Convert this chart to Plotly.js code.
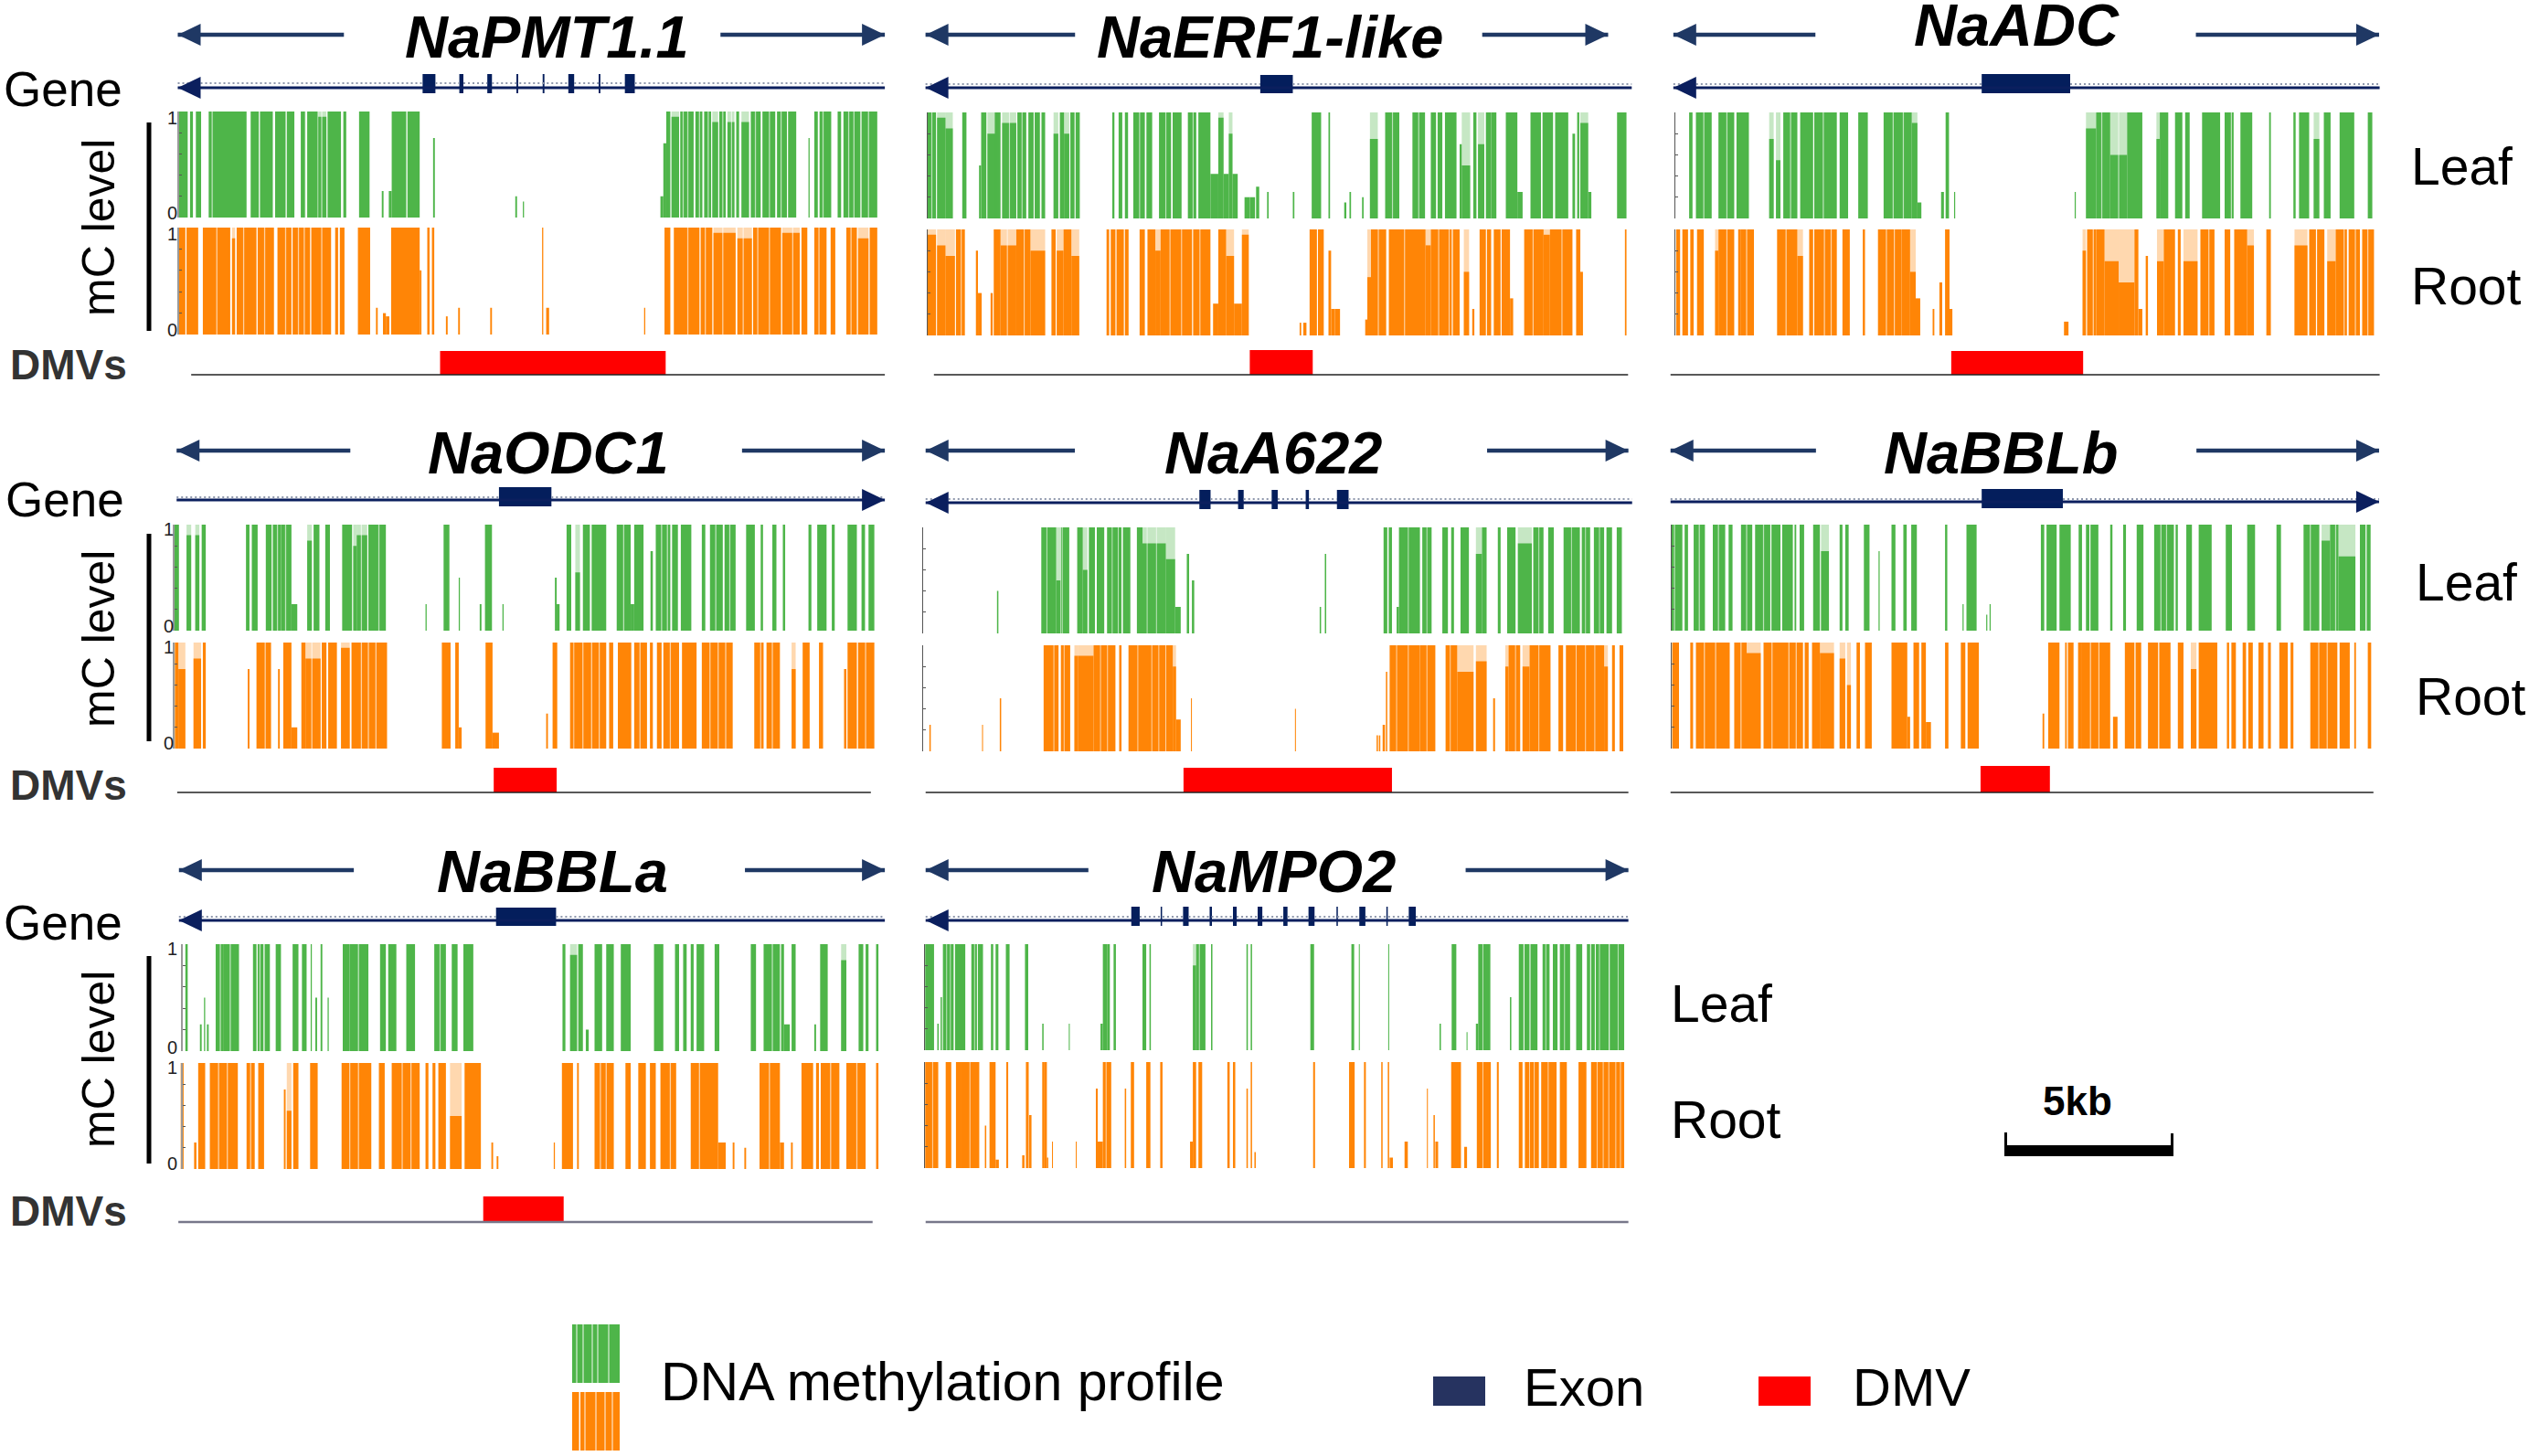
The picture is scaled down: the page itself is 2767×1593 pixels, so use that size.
<!DOCTYPE html>
<html><head><meta charset="utf-8">
<script src="https://cdn.plot.ly/plotly-3.0.1.min.js"></script>
<style>html,body{margin:0;padding:0;background:#fff}#c{width:2767px;height:1593px}</style>
</head><body><div id="c"></div>
<script>
// Methylation blocks: [start, end, mC level] in genome bins (level 1 when omitted)
const NaPMT_leaf=[[305,322],[326,331],[336,345],[358,423],[430,444],[446,468],[472,490],[492,505],[516,524],[527,545],[546,560,.95],[562,585],[589,594],[616,634],[655,658,.25],[667,672,.25],[672,697],[699,720],[743,746,.75],[884,887,.2],[897,899,.15],[1133,1138,.2],[1138,1143,.7],[1143,1150],[1152,1165,.95],[1167,1190],[1193,1205],[1208,1220],[1222,1232,.9],[1234,1245],[1248,1260,.9],[1263,1268],[1272,1285,.9],[1288,1305],[1308,1330],[1333,1350],[1352,1366],[1387,1389,.75],[1397,1403],[1406,1426],[1437,1443],[1447,1476],[1478,1505]];
const NaPMT_root=[[305,318],[320,340],[348,395],[398,404,.9],[406,440],[442,470],[476,500],[502,532],[534,568],[575,580],[583,591],[614,635],[645,648,.25],[657,662,.2],[662,668,.17],[671,720],[720,723,.6],[733,737],[741,745],[765,768,.17],[786,789,.25],[841,844,.25],[930,932],[937,942,.25],[1105,1107,.25],[1140,1150],[1156,1200],[1202,1222],[1224,1262,.95],[1265,1290,.9],[1292,1340],[1342,1372,.95],[1375,1385],[1397,1418],[1425,1433],[1452,1470],[1472,1490,.9],[1492,1505]];
const NaERF_leaf=[[25,42],[44,60,.95],[60,74,.85],[92,100],[124,128,.5],[128,138],[140,158,.8],[154,165],[168,195,.9],[197,214],[218,228],[230,240],[243,250],[266,275,.8],[278,286],[286,296,.8],[298,306],[308,316],[378,382],[390,397],[402,408],[418,440],[443,454],[467,490],[493,510],[522,538],[542,565],[565,580,.42],[580,590,.95],[590,600,.42],[600,607,.8],[607,617,.42],[630,640,.2],[640,650,.2],[652,658,.3],[673,676,.25],[722,725,.25],[758,776],[790,793],[820,824,.15],[830,833,.25],[854,857,.2],[869,884,.75],[898,925],[950,974],[985,995],[998,1007],[1012,1034],[1040,1044,.7],[1044,1060,.5],[1066,1072],[1075,1087,.7],[1090,1100],[1100,1110],[1128,1150],[1150,1160,.25],[1175,1195],[1198,1218],[1222,1247],[1255,1260,.8],[1264,1268],[1270,1285,.9],[1285,1291,.25],[1340,1358]];
const NaERF_root=[[25,42,.95],[44,60,.85],[60,78,.75],[80,97],[118,122,.8],[122,129,.4],[146,150,.4],[152,165],[165,195,.85],[195,222],[222,250,.8],[262,270],[272,285,.8],[285,300],[300,315,.75],[367,372],[375,384],[386,400],[402,409],[430,440],[445,460],[460,470,.8],[470,530],[532,565],[570,580,.3],[580,595],[595,610,.75],[610,625,.3],[625,638,.95],[735,738,.12],[742,748,.12],[754,768],[770,781],[790,795,.8],[795,802,.25],[802,812,.25],[860,864,.15],[864,871,.55],[871,900],[905,975],[975,985,.85],[985,1025],[1027,1040],[1048,1058,.6],[1064,1068,.25],[1078,1090],[1092,1100],[1105,1118],[1120,1136],[1136,1142,.35],[1163,1200],[1200,1212,.95],[1212,1255],[1262,1270],[1270,1275,.6],[1355,1358]];
const NaADC_leaf=[[78,84],[90,118],[130,158],[162,184],[220,228,.75],[232,240,.55],[245,270],[275,298],[300,340],[345,360],[378,395],[423,473],[473,483,.9],[483,490,.15],[525,530,.25],[533,539],[548,550,.25],[762,764,.25],[782,800,.85],[800,825],[825,855,.6],[855,882],[907,913,.75],[913,928],[940,953],[958,966],[988,1020],[1028,1044],[1056,1077],[1107,1110],[1150,1154],[1160,1178],[1186,1196,.75],[1204,1216],[1232,1258],[1282,1290]];
const NaADC_root=[[55,62],[66,76],[80,86],[92,104],[124,130,.8],[130,158],[165,170],[170,193],[234,270],[270,280,.75],[291,298],[300,340],[350,363],[386,390],[413,455],[455,470],[470,480,.6],[480,488,.35],[510,513,.25],[522,527,.5],[532,540],[540,545,.25],[743,751,.13],[776,782,.8],[784,800],[800,815],[815,840,.7],[840,868,.5],[868,875],[875,882,.25],[888,892,.75],[908,920,.7],[920,940],[945,950],[955,980,.7],[985,1010],[1028,1038],[1045,1068],[1068,1080,.85],[1102,1110],[1152,1175,.85],[1178,1190],[1192,1205],[1210,1225,.7],[1225,1245],[1248,1268],[1272,1293]];
const NaODC_leaf=[[298,307],[320,328,.9],[335,342,.9],[346,353],[422,428],[432,442],[456,466],[468,482],[482,500],[500,510,.25],[527,535,.85],[538,548],[558,566],[587,604],[606,612,.8],[612,630,.9],[632,662],[730,732,.25],[761,771],[787,789,.5],[823,826,.25],[832,844],[862,864,.25],[952,955,.5],[955,960,.25],[972,980],[987,995,.55],[1000,1012],[1015,1040],[1058,1082],[1082,1088,.25],[1088,1104],[1116,1120,.75],[1125,1150],[1153,1163],[1168,1186],[1204,1210],[1218,1240],[1243,1262],[1280,1295],[1305,1309],[1325,1332],[1343,1347],[1387,1392],[1402,1418],[1427,1432],[1454,1470],[1478,1484],[1490,1500]];
const NaODC_root=[[300,306],[306,318,.75],[332,345,.85],[348,353],[425,428,.75],[440,465],[477,480,.75],[486,500],[500,510,.2],[517,524],[524,550,.85],[552,560],[563,578],[585,600,.95],[603,664],[758,773],[781,787],[787,792,.2],[833,845],[845,856,.15],[937,940,.33],[948,956],[978,984],[985,1040],[1045,1052],[1060,1083],[1088,1110],[1115,1120],[1127,1135],[1138,1165],[1170,1195],[1204,1257],[1294,1310],[1315,1338],[1358,1365,.75],[1377,1389],[1405,1412],[1448,1452,.75],[1454,1470],[1472,1500]];
const NaA622_leaf=[[178,181,.4],[273,305],[305,314,.5],[315,333],[350,362],[362,372,.6],[375,388],[392,408],[414,445],[448,464],[478,490],[490,540,.85],[540,560,.7],[560,572,.25],[585,590,.75],[596,601,.5],[870,873,.25],[881,884,.75],[1007,1015],[1018,1025],[1035,1040,.25],[1040,1085],[1090,1110],[1133,1145],[1152,1158],[1172,1190],[1205,1218,.75],[1218,1228],[1252,1258],[1272,1290],[1295,1325,.85],[1328,1350],[1360,1372],[1393,1428],[1432,1450],[1458,1480],[1485,1497],[1507,1518]];
const NaA622_root=[[33,36,.25],[146,148,.25],[184,187,.5],[278,310],[315,335],[344,352,.9],[352,385,.9],[385,432],[440,445],[460,555],[555,562,.8],[562,572,.3],[594,596,.5],[817,819,.4],[992,995,.15],[997,1000,.15],[1005,1010,.25],[1012,1015,.75],[1020,1085],[1085,1118],[1140,1165],[1165,1200,.75],[1205,1228,.85],[1242,1246,.5],[1268,1275,.8],[1275,1300],[1305,1320,.8],[1320,1365],[1382,1392],[1398,1480],[1480,1488,.8],[1497,1503],[1513,1521]];
const NaBBLb_leaf=[[47,66],[70,76],[86,106],[120,142],[148,155],[170,190],[195,222],[224,240],[243,262],[265,268],[274,282],[298,310],[312,326,.75],[345,350],[355,361],[388,398],[414,416,.75],[437,444],[458,464],[472,482],[532,536],[563,565,.25],[570,588],[605,607,.15],[611,613,.25],[702,708],[712,730],[735,755],[769,775],[782,788],[790,804],[825,829],[848,853],[872,884],[903,938],[941,945],[960,970],[982,1005],[1030,1041],[1068,1082],[1120,1128],[1168,1196],[1200,1215,.85],[1215,1230],[1230,1260,.7],[1268,1278],[1280,1287]];
const NaBBLb_root=[[48,60],[80,85],[90,150],[158,180],[180,205,.9],[210,240],[240,280],[283,290],[296,310],[310,335,.9],[345,355,.85],[358,365,.6],[375,381],[390,402],[437,465],[465,470,.3],[476,486],[490,498],[498,507,.25],[532,538],[560,568],[572,592],[705,708,.33],[715,735],[745,748],[750,760],[768,775],[775,825],[830,838,.3],[851,868],[870,880],[892,910],[912,932],[945,955],[968,978,.75],[982,1015],[1032,1036],[1040,1048],[1060,1066],[1070,1078],[1088,1097],[1105,1110],[1125,1140],[1145,1150],[1180,1228],[1232,1250],[1258,1261],[1282,1288]];
const NaBBLa_leaf=[[318,322],[343,346,.25],[350,352,.5],[355,358,.25],[370,384],[384,410],[434,440],[442,452],[454,463],[473,482],[502,512],[518,526],[533,535],[541,544,.5],[550,553],[562,564,.5],[588,600],[600,632],[652,662],[666,680],[697,712],[745,765],[775,785],[795,812],[965,970],[978,990,.9],[992,1000],[1005,1010,.2],[1020,1033],[1040,1053],[1065,1082],[1122,1138],[1158,1165],[1172,1178],[1185,1190],[1195,1208],[1226,1234],[1288,1297],[1310,1338],[1340,1345],[1345,1355,.25],[1358,1365],[1397,1400,.25],[1407,1420],[1443,1452,.85],[1473,1481],[1485,1490],[1503,1507]];
const NaBBLa_root=[[310,315],[333,337,.25],[340,352],[360,408],[423,437],[443,453],[487,490,.75],[492,500,.55],[503,512],[532,545],[586,637],[650,660],[672,720],[730,735],[742,747],[752,765],[772,792,.5],[797,825],[843,846,.25],[852,855,.12],[950,952,.25],[964,983],[990,993],[1020,1053],[1073,1082],[1095,1108],[1115,1125],[1133,1160],[1185,1232],[1232,1245,.25],[1257,1260,.25],[1277,1280,.2],[1303,1338],[1338,1345,.25],[1357,1360,.25],[1375,1395],[1400,1405],[1408,1440],[1452,1485],[1503,1507]];
const NaMPO2_leaf=[[24,43],[50,53,.25],[57,60,.5],[62,85],[88,110],[123,135],[137,148],[165,170],[175,181],[197,205],[238,245],[275,278,.25],[332,334,.25],[400,405,.25],[405,415],[415,420],[428,433],[490,498],[505,508],[598,605,.8],[605,625],[637,640],[713,716],[722,725],[850,858],[938,944],[954,956],[1017,1019],[1127,1130,.25],[1153,1163],[1185,1187,.17],[1205,1210,.25],[1210,1236],[1278,1281,.5],[1297,1307],[1309,1320],[1322,1337],[1348,1363],[1370,1380],[1385,1407],[1420,1433],[1443,1450],[1452,1460],[1462,1490],[1492,1523]];
const NaMPO2_root=[[24,52],[68,80],[90,100],[100,140],[152,155,.4],[162,175],[175,182,.08],[198,202],[232,237,.12],[240,246],[247,252,.5],[275,280],[280,285],[285,288,.1],[296,298,.25],[347,349,.25],[390,394,.75],[394,405,.25],[405,423],[452,455,.75],[465,472],[498,507],[528,533],[592,598,.25],[598,605],[610,618],[672,677],[684,689],[713,716,.75],[722,725],[730,733,.15],[856,860],[933,945],[965,969],[1002,1005],[1016,1019],[1020,1027,.1],[1052,1059,.25],[1100,1102,.75],[1114,1117,.5],[1118,1124,.25],[1152,1173],[1180,1186,.2],[1207,1237],[1250,1254],[1297,1305],[1310,1340],[1345,1378],[1385,1400],[1425,1442],[1452,1523]];
// Unmethylated sites inside the dense blocks
const slits_PMT_leaf=[364,524,552,1172,1180,1200,1215,1240,1255,1296,1320,1340,1412,1456,1465,1490];
const slits_PMT_root=[372,404,418,454,490,512,522,552,1180,1210,1240,1275,1300,1320,1360,1405,1460];
const slits_ERF_leaf=[34,182,206,480,430,532,912,962];
const slits_ERF_root=[90,178,210,488,510,545,885,935,1000,1020,1180,1235];
const slits_ADC_leaf=[104,145,258,316,440,458,810,840,1040];
const slits_ADC_root=[145,180,250,318,330,428,442,795,1000,1240,1260,1282];
const slits_ODC_leaf=[476,490,620,650,1070,1135,1145,1228,1252];
const slits_ODC_root=[455,535,620,632,645,1000,1015,1028,1098,1150,1218,1232,1245,1305,1325,1485];
const slits_A622_leaf=[285,318,425,438,500,520,1060,1100,1410,1440,1470,1340];
const slits_A622_root=[300,322,400,415,480,510,525,540,1035,1060,1100,1150,1290,1340,1420,1440,1460];
const slits_BBLb_leaf=[52,96,130,180,210,915,925,1180,1225];
const slits_BBLb_root=[105,125,170,225,255,268,790,805,1195,1210];
const slits_BBLa_leaf=[378,395,446,615,755,1325];
const slits_BBLa_root=[375,390,430,600,615,690,705,1030,1040,1150,1200,1320,1425,1470];
const slits_MPO2_leaf=[70,78,130,612,1220,1355,1395,1470,1510];
const slits_MPO2_root=[40,120,412,1220,1320,1330,1360,1465,1478,1490,1505,1515];
const exons_PMT=[[725,747],[788,795],[836,844],[886,889],[931,934],[975,985],[1027,1030],[1072,1089]];
const exons_ERF=[[660,722]];
const exons_ADC=[[597,754]];
const exons_ODC=[[856,946]];
const exons_A622=[[612,636],[695,707],[767,780],[840,847],[907,932]];
const exons_BBLb=[[597,741]];
const exons_BBLa=[[851,954]];
const exons_MPO2=[[466,484],[529,532],[577,589],[634,639],[684,692],[737,747],[792,801],[846,859],[906,909],[955,968],[1013,1016],[1061,1076]];
const dmv_PMT=[755,1142], dmv_ERF=[640,760], dmv_ADC=[543,777], dmv_ODC=[847,955], dmv_A622=[578,1025], dmv_BBLb=[595,718], dmv_BBLa=[829,967];
const legendGreen=[[0,52]];
const legendOrange=[[0,8],[9,52]];
const legendGreenSlits=[5,12,22,28,40];
const legendOrangeSlits=[8,14,26,36,44];
const geneNames=['NaPMT1.1','NaERF1-like','NaADC','NaODC1','NaA622','NaBBLb','NaBBLa','NaMPO2'];
const scaleBarKb=5;

const W=2767,H=1593;
const GREEN='rgba(77,181,72,.995)',ORANGE='rgba(255,133,5,.995)',TITLEARROW='#1f3864',GENE='#0b1f5e',EXON='#041e5c',RED='#ff0000';
const PALEG='rgba(77,181,72,.32)',PALEO='rgba(255,133,5,.32)';
const P=[
 {leaf:NaPMT_leaf,root:NaPMT_root,sl:slits_PMT_leaf,sr:slits_PMT_root,ex:exons_PMT,dmv:dmv_PMT,s:1.568,off:0,lo:290,hi:1530,tl:194.5,ly:[122,238],ry:[249,366],ay:38,aL:[305,590],aR:[1236,1518],cx:598,ty:40,gy:96,dy:91,g:[305,1518],dir:-1,ey:[81,102],my:[384,410],b:[328,1518],by:410,lab:[188,129,233,256,361]},
 {leaf:NaERF_leaf,root:NaERF_root,sl:slits_ERF_leaf,sr:slits_ERF_root,ex:exons_ERF,dmv:dmv_ERF,s:1.742,off:1000,lo:10,hi:1375,tl:1014,ly:[123,239],ry:[251,367],ay:38,aL:[22,307],aR:[1083,1323],cx:1389,ty:40,gy:96,dy:92,g:[22,1368],dir:-1,ey:[82,102],my:[383,410],b:[38,1361],by:410},
 {leaf:NaADC_leaf,root:NaADC_root,sl:slits_ADC_leaf,sr:slits_ADC_root,ex:exons_ADC,dmv:dmv_ADC,s:1.6215,off:1800,lo:30,hi:1310,tl:1832,ly:[123,239],ry:[251,367],ay:38,aL:[50,302],aR:[977,1302],cx:2206,ty:28,gy:96,dy:92,g:[50,1303],dir:-1,ey:[81,102],my:[384,410],b:[45,1303],by:410},
 {leaf:NaODC_leaf,root:NaODC_root,sl:slits_ODC_leaf,sr:slits_ODC_root,ex:exons_ODC,dmv:dmv_ODC,s:1.568,off:0,lo:285,hi:1530,tl:190,ly:[574,690],ry:[703,819],ay:493,aL:[303,601],aR:[1273,1518],cx:600,ty:495,gy:547,dy:544,g:[303,1518],dir:1,ey:[533,554],my:[840,867],b:[304,1494],by:867,lab:[184,579,685,708,813]},
 {leaf:NaA622_leaf,root:NaA622_root,sl:slits_A622_leaf,sr:slits_A622_root,ex:exons_A622,dmv:dmv_A622,s:1.96,off:1000,lo:5,hi:1550,tl:1009,ly:[577,693],ry:[706,822],ay:493,aL:[25,345],aR:[1229,1532],cx:1393,ty:495,gy:550,dy:546,g:[25,1540],dir:-1,ey:[536,557],my:[840,867],b:[25,1532],by:867},
 {leaf:NaBBLb_leaf,root:NaBBLb_root,sl:slits_BBLb_leaf,sr:slits_BBLb_root,ex:exons_BBLb,dmv:dmv_BBLb,s:1.6215,off:1800,lo:30,hi:1310,tl:1828,ly:[574,690],ry:[703,819],ay:493,aL:[45,303],aR:[978,1302],cx:2189,ty:495,gy:549,dy:546,g:[45,1302],dir:1,ey:[535,556],my:[838,867],b:[45,1292],by:867},
 {leaf:NaBBLa_leaf,root:NaBBLa_root,sl:slits_BBLa_leaf,sr:slits_BBLa_root,ex:exons_BBLa,dmv:dmv_BBLa,s:1.568,off:0,lo:290,hi:1530,tl:199,ly:[1033,1150],ry:[1163,1279],ay:952,aL:[307,607],aR:[1278,1518],cx:604,ty:953,gy:1007,dy:1003,g:[307,1518],dir:-1,ey:[993,1013],my:[1309,1337],b:[306,1497],by:1337,lab:[188,1038,1146,1168,1273],gray:1},
 {leaf:NaMPO2_leaf,root:NaMPO2_root,sl:slits_MPO2_leaf,sr:slits_MPO2_root,ex:exons_MPO2,dmv:null,s:1.96,off:1000,lo:10,hi:1550,tl:1011,ly:[1033,1149],ry:[1162,1278],ay:952,aL:[25,374],aR:[1183,1532],cx:1393,ty:953,gy:1007,dy:1003,g:[25,1532],dir:-1,ey:[992,1013],my:[0,0],b:[25,1532],by:1337,gray:1}
];
const layout={width:W,height:H,margin:{l:0,r:0,t:0,b:0},paper_bgcolor:'#fff',plot_bgcolor:'rgba(0,0,0,0)',showlegend:false,barmode:'overlay',
 font:{family:'Liberation Sans'},annotations:[]};
const traces=[];
const noax={visible:false,fixedrange:true,showgrid:false,zeroline:false};
layout.yaxis=Object.assign({range:[H,0],domain:[0,1],anchor:'x9'},noax);
layout.xaxis9=Object.assign({range:[0,W],domain:[0,1],anchor:'y'},noax);
function bars(blocks,xa,ya,color,pale,slits,sw){
 const pb=blocks.filter(b=>b[2]!==undefined&&b[2]>=.5&&b[1]-b[0]>=6);
 if(pb.length) traces.push({type:'bar',xaxis:xa,yaxis:ya,x:pb.map(b=>(b[0]+b[1])/2),width:pb.map(b=>b[1]-b[0]),
   y:pb.map(b=>1),base:0,marker:{color:pale,line:{width:0}},hoverinfo:'skip'});
 traces.push({type:'bar',xaxis:xa,yaxis:ya,x:blocks.map(b=>(b[0]+b[1])/2),width:blocks.map(b=>b[1]-b[0]),
  y:blocks.map(b=>b[2]===undefined?1:b[2]),base:0,marker:{color:color,line:{width:0}},hoverinfo:'skip'});
 if(slits&&slits.length) traces.push({type:'bar',xaxis:xa,yaxis:ya,x:slits,width:slits.map(()=>sw),
  y:slits.map(()=>1),base:0,marker:{color:'rgba(255,255,255,.62)',line:{width:0}},hoverinfo:'skip'});
}
function rect(x0,x1,y0,y1,xa,color){
 traces.push({type:'bar',xaxis:xa,yaxis:'y',x:[(x0+x1)/2],width:[x1-x0],y:[y1-y0],base:[y0],marker:{color:color,line:{width:0}},hoverinfo:'skip'});
}
function line(xs,ys,xa,color,w,dash){
 traces.push({type:'scatter',mode:'lines',xaxis:xa,yaxis:'y',x:xs,y:ys,line:{color:color,width:w,dash:dash||'solid'},hoverinfo:'skip',cliponaxis:false});
}
function head(zx,py,xa,color,dir,s){
 const back=zx-dir*25*s;
 traces.push({type:'scatter',mode:'lines',fill:'toself',fillcolor:color,xaxis:xa,yaxis:'y',x:[zx,back,back,zx],y:[py,py-12,py+12,py],
  line:{width:0,color:color},hoverinfo:'skip',cliponaxis:false});
}
function txt(t,x,y,size,o){
 layout.annotations.push(Object.assign({text:t,x:x/W,y:1-y/H,xref:'paper',yref:'paper',showarrow:false,xanchor:'center',yanchor:'middle',
  font:{size:size,color:'#000',family:'Liberation Sans'}},o||{}));
}
P.forEach((p,i)=>{
 const n=i+1, xa='x'+n;
 layout['xaxis'+n]=Object.assign({range:[p.lo,p.hi],domain:[(p.lo/p.s+p.off)/W,(p.hi/p.s+p.off)/W],anchor:'y'},noax);
 const mk=(yy)=>({range:[0,1],domain:[1-yy[1]/H,1-yy[0]/H],anchor:'free',position:p.tl/W,fixedrange:true,showgrid:false,zeroline:false,
   showline:true,linecolor:p.lab?'#999':'#555',linewidth:p.lab?2:1,ticks:'inside',ticklen:3,tickcolor:'#555',tickvals:[0,.2,.4,.6,.8,1],showticklabels:false});
 layout['yaxis'+(2*n)]=mk(p.ly); layout['yaxis'+(2*n+1)]=mk(p.ry);
 bars(p.leaf,xa,'y'+(2*n),GREEN,PALEG,p.sl,2);
 bars(p.root,xa,'y'+(2*n+1),ORANGE,PALEO,p.sr,2);
 if(p.lab){
  const f={size:20,color:'#222',family:'Liberation Sans'};
  txt('1',p.lab[0],p.lab[1],20,{font:f}); txt('0',p.lab[0],p.lab[2],20,{font:f});
  txt('1',p.lab[0],p.lab[3],20,{font:f}); txt('0',p.lab[0],p.lab[4],20,{font:f});
 }
 // title arrows
 line(p.aL,[p.ay,p.ay],xa,TITLEARROW,4.5); line(p.aR,[p.ay,p.ay],xa,TITLEARROW,4.5);
 head(p.aL[0],p.ay,xa,TITLEARROW,-1,p.s); head(p.aR[1],p.ay,xa,TITLEARROW,1,p.s);
 // gene model: dotted guide broken at exons
 const wide=p.ex.filter(e=>e[1]-e[0]>6);
 const dx=[p.g[0]],dyy=[p.dy];
 wide.forEach(e=>{dx.push(e[0],null,e[1]);dyy.push(p.dy,null,p.dy);});
 dx.push(p.g[1]);dyy.push(p.dy);
 line(dx,dyy,xa,'#8f98ad',2,'2px,3px');
 line(p.g,[p.gy,p.gy],xa,GENE,3);
 head(p.dir<0?p.g[0]:p.g[1],p.gy,xa,GENE,p.dir,p.s);
 p.ex.forEach(e=>rect(e[0],e[1],p.ey[0],p.ey[1],xa,EXON));
 // DMV track
 line(p.b,[p.by,p.by],xa,p.gray?'#77778a':'#222',p.gray?2.5:1.5);
 if(p.dmv) rect(p.dmv[0],p.dmv[1],p.my[0],p.my[1],xa,RED);
 txt('<b><i>'+geneNames[i]+'</i></b>',p.cx,p.ty,65);
});
// page level marks
const pg='x9';
[[98,2],[546,4],[1010,2]].forEach(g=>txt('Gene',g[1],g[0],53,{xanchor:'left'}));
[[249,134,362],[699,584,811],[1159,1046,1273]].forEach(m=>{
 txt('mC level',108,m[0],50,{textangle:-90});
 line([163,163],[m[1],m[2]],pg,'#000',5);
});
[399,859,1325].forEach(y=>txt('<b>DMVs</b>',9,y,46,{xanchor:'left',font:{size:46,color:'#333',family:'Liberation Sans'}}));
[[2636,182,313],[2641,637,762],[1826,1098,1225]].forEach(l=>{
 txt('Leaf',l[0],l[1],57,{xanchor:'left'}); txt('Root',l[0],l[2],57,{xanchor:'left'});
});
// scale bar
layout.xaxis10=Object.assign({range:[0,scaleBarKb],domain:[2193/W,2378/W],anchor:'y'},noax);
const sbar=(xs,ys,w)=>traces.push({type:'scatter',mode:'lines',xaxis:'x10',yaxis:'y',x:xs,y:ys,line:{color:'#000',width:w},hoverinfo:'skip',cliponaxis:false});
sbar([0,scaleBarKb],[1259,1259],12);
sbar([0,0],[1239,1265],6);
sbar([scaleBarKb,scaleBarKb],[1240,1265],6);
txt('<b>5kb</b>',2273,1204,44);
// legend
layout.xaxis11=Object.assign({range:[0,52],domain:[626/W,678/W],anchor:'y20'},noax);
const ly=a=>Object.assign({range:[0,1],domain:[1-a[1]/H,1-a[0]/H],anchor:'x11'},noax);
layout.yaxis20=ly([1449,1513]); layout.yaxis21=ly([1523,1587]);
bars(legendGreen,'x11','y20',GREEN,PALEG,legendGreenSlits,1.5);
bars(legendOrange,'x11','y21',ORANGE,PALEO,legendOrangeSlits,1.5);
txt('DNA methylation profile',721,1512,59,{xanchor:'left'});
rect(1568,1625,1506,1538,pg,'#263360'); txt('Exon',1665,1517,58,{xanchor:'left'});
rect(1924,1981,1506,1538,pg,RED); txt('DMV',2025,1517,58,{xanchor:'left'});
Plotly.newPlot('c',traces,layout,{staticPlot:true,displayModeBar:false});
</script></body></html>
